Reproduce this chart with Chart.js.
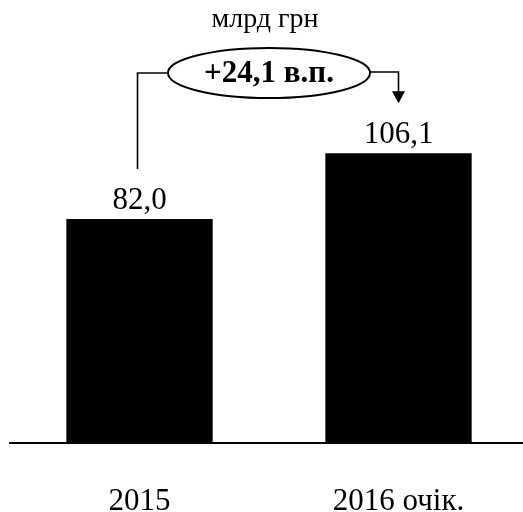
<!DOCTYPE html>
<html>
<head>
<meta charset="utf-8">
<script src="https://cdn.jsdelivr.net/npm/chart.js@4"></script>
<style>
  html, body { margin: 0; padding: 0; background: #fff; overflow: hidden; }
  .box { width: 528px; height: 512px; }
</style>
</head>
<body>
<div class="box"><canvas id="revenueChart"></canvas></div>
<script>
const categories = ["2015", "2016 очік."];
const values = [82.0, 106.1];
const valueLabels = ["82,0", "106,1"];
const unitText = "млрд грн";
const growthText = "+24,1 в.п.";

const SERIF = "'Liberation Serif', 'Times New Roman', serif";

// ellipse with the growth + connectors, value labels, unit caption
const annotations = {
  id: "annotations",
  afterDatasetsDraw(chart) {
    const ctx = chart.ctx;
    const bars = chart.getDatasetMeta(0).data;
    ctx.save();
    ctx.fillStyle = "#000";
    ctx.strokeStyle = "#000";

    // value labels over bars
    ctx.font = "31px " + SERIF;
    ctx.textAlign = "center";
    ctx.textBaseline = "alphabetic";
    bars.forEach((bar, i) => {
      ctx.fillText(valueLabels[i], bar.x, bar.y - 10);
    });

    // unit caption
    ctx.font = "28px " + SERIF;
    const midX = (bars[0].x + bars[1].x) / 2;
    ctx.fillText(unitText, midX - 4, 27);

    // ellipse
    const cy = 73, rx = 101, ry = 25;
    ctx.lineWidth = 2;
    ctx.beginPath();
    ctx.ellipse(midX, cy, rx, ry, 0, 0, Math.PI * 2);
    ctx.stroke();
    ctx.font = "bold 31px " + SERIF;
    ctx.textBaseline = "middle";
    ctx.fillText(growthText, midX, cy + 1);

    // left connector
    ctx.lineWidth = 1.6;
    ctx.beginPath();
    ctx.moveTo(midX - rx, cy);
    ctx.lineTo(bars[0].x - 2, cy);
    ctx.lineTo(bars[0].x - 2, bars[0].y - 50);
    ctx.stroke();

    // right connector with arrow
    const tipY = bars[1].y - 50;
    ctx.beginPath();
    ctx.moveTo(midX + rx, cy - 1);
    ctx.lineTo(bars[1].x, cy - 1);
    ctx.lineTo(bars[1].x, tipY - 10);
    ctx.stroke();
    ctx.beginPath();
    ctx.moveTo(bars[1].x - 6.5, tipY - 12);
    ctx.lineTo(bars[1].x + 6.5, tipY - 12);
    ctx.lineTo(bars[1].x, tipY);
    ctx.closePath();
    ctx.fill();

    ctx.restore();
  }
};

new Chart(document.getElementById("revenueChart"), {
  type: "bar",
  data: {
    labels: categories,
    datasets: [{
      data: values,
      backgroundColor: "#000",
      borderWidth: 0,
      categoryPercentage: 1,
      barPercentage: 0.565,
    }],
  },
  options: {
    responsive: true,
    maintainAspectRatio: false,
    animation: false,
    layout: { padding: { top: 103, left: 10, right: 0, bottom: 0 } },
    plugins: {
      legend: { display: false },
      tooltip: { enabled: false },
    },
    scales: {
      x: {
        grid: { display: false },
        border: { display: true, color: "#000", width: 2 },
        ticks: {
          color: "#000",
          padding: 32,
          font: { family: SERIF, size: 31 },
        },
        afterFit: (scale) => { scale.height = 69; },
      },
      y: {
        display: false,
        min: 0,
        max: 124.5,
      },
    },
  },
  plugins: [annotations],
});
</script>
</body>
</html>
